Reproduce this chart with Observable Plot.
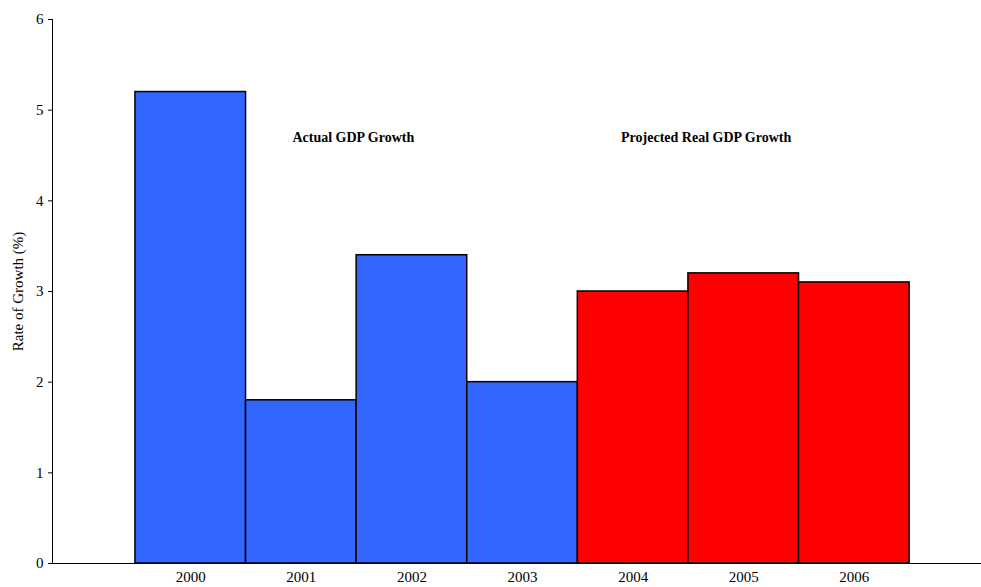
<!DOCTYPE html>
<html>
<head>
<meta charset="utf-8">
<script src="https://cdn.jsdelivr.net/npm/d3@7"></script>
<script src="https://cdn.jsdelivr.net/npm/@observablehq/plot@0.6"></script>
<style>
  html, body { margin: 0; padding: 0; background: #fff; }
  #chart svg { display: block; font-family: "Liberation Serif", "Times New Roman", serif !important; }
  #chart svg text { font-family: "Liberation Serif", "Times New Roman", serif !important; }
</style>
</head>
<body>
<div id="chart"></div>
<script>
const years = ["2000", "2001", "2002", "2003", "2004", "2005", "2006"];
const growth = [5.2, 1.8, 3.4, 2.0, 3.0, 3.2, 3.1];
const kinds = ["Actual", "Actual", "Actual", "Actual", "Projected", "Projected", "Projected"];
const yTicks = [0, 1, 2, 3, 4, 5, 6];
const annotations = ["Actual GDP Growth", "Projected Real GDP Growth"];
const annotationX = [1.97, 5.16];
const annotationY = [4.7, 4.7];

const data = years.map((year, i) => ({year, i, value: growth[i], kind: kinds[i]}));
const notes = annotations.map((text, k) => ({text, x: annotationX[k], y: annotationY[k]}));

const xMin = -0.75, xMax = 7.65;
const serif = "Liberation Serif";

const chart = Plot.plot({
  width: 981,
  height: 587,
  marginLeft: 52,
  marginRight: 0,
  marginTop: 19,
  marginBottom: 24,
  style: {fontFamily: serif, fontSize: "15px", color: "#000", background: "#fff"},
  x: {type: "linear", domain: [xMin, xMax]},
  y: {domain: [0, 6]},
  color: {domain: ["Actual", "Projected"], range: ["#3366FF", "#FF0000"]},
  marks: [
    Plot.rectY(data, {x1: d => d.i, x2: d => d.i + 1, y1: 0, y2: "value", fill: "kind", stroke: "#000", strokeWidth: 1.5}),
    Plot.ruleY([0], {stroke: "#000", strokeWidth: 1}),
    Plot.ruleX([xMin], {y1: 0, y2: 6, stroke: "#000", strokeWidth: 1}),
    Plot.axisY(yTicks, {tickSize: 4, tickPadding: 5, label: null, fontSize: 15, fontFamily: serif, tickFormat: d3.format("d")}),
    Plot.axisX(years.map((_, i) => i + 0.5), {tickSize: 0, tickPadding: 8, tickFormat: (d) => years[Math.round(d - 0.5)], label: null, fontSize: 15, fontFamily: serif}),
    Plot.text(["Rate of Growth (%)"], {x: xMin, y: 3, rotate: -90, dx: -34, fontSize: 15, fontFamily: serif, text: d => d}),
    Plot.text(notes, {x: "x", y: "y", text: "text", fontWeight: "bold", fontSize: 14, fontFamily: serif})
  ]
});
document.getElementById("chart").appendChild(chart);
</script>
</body>
</html>
